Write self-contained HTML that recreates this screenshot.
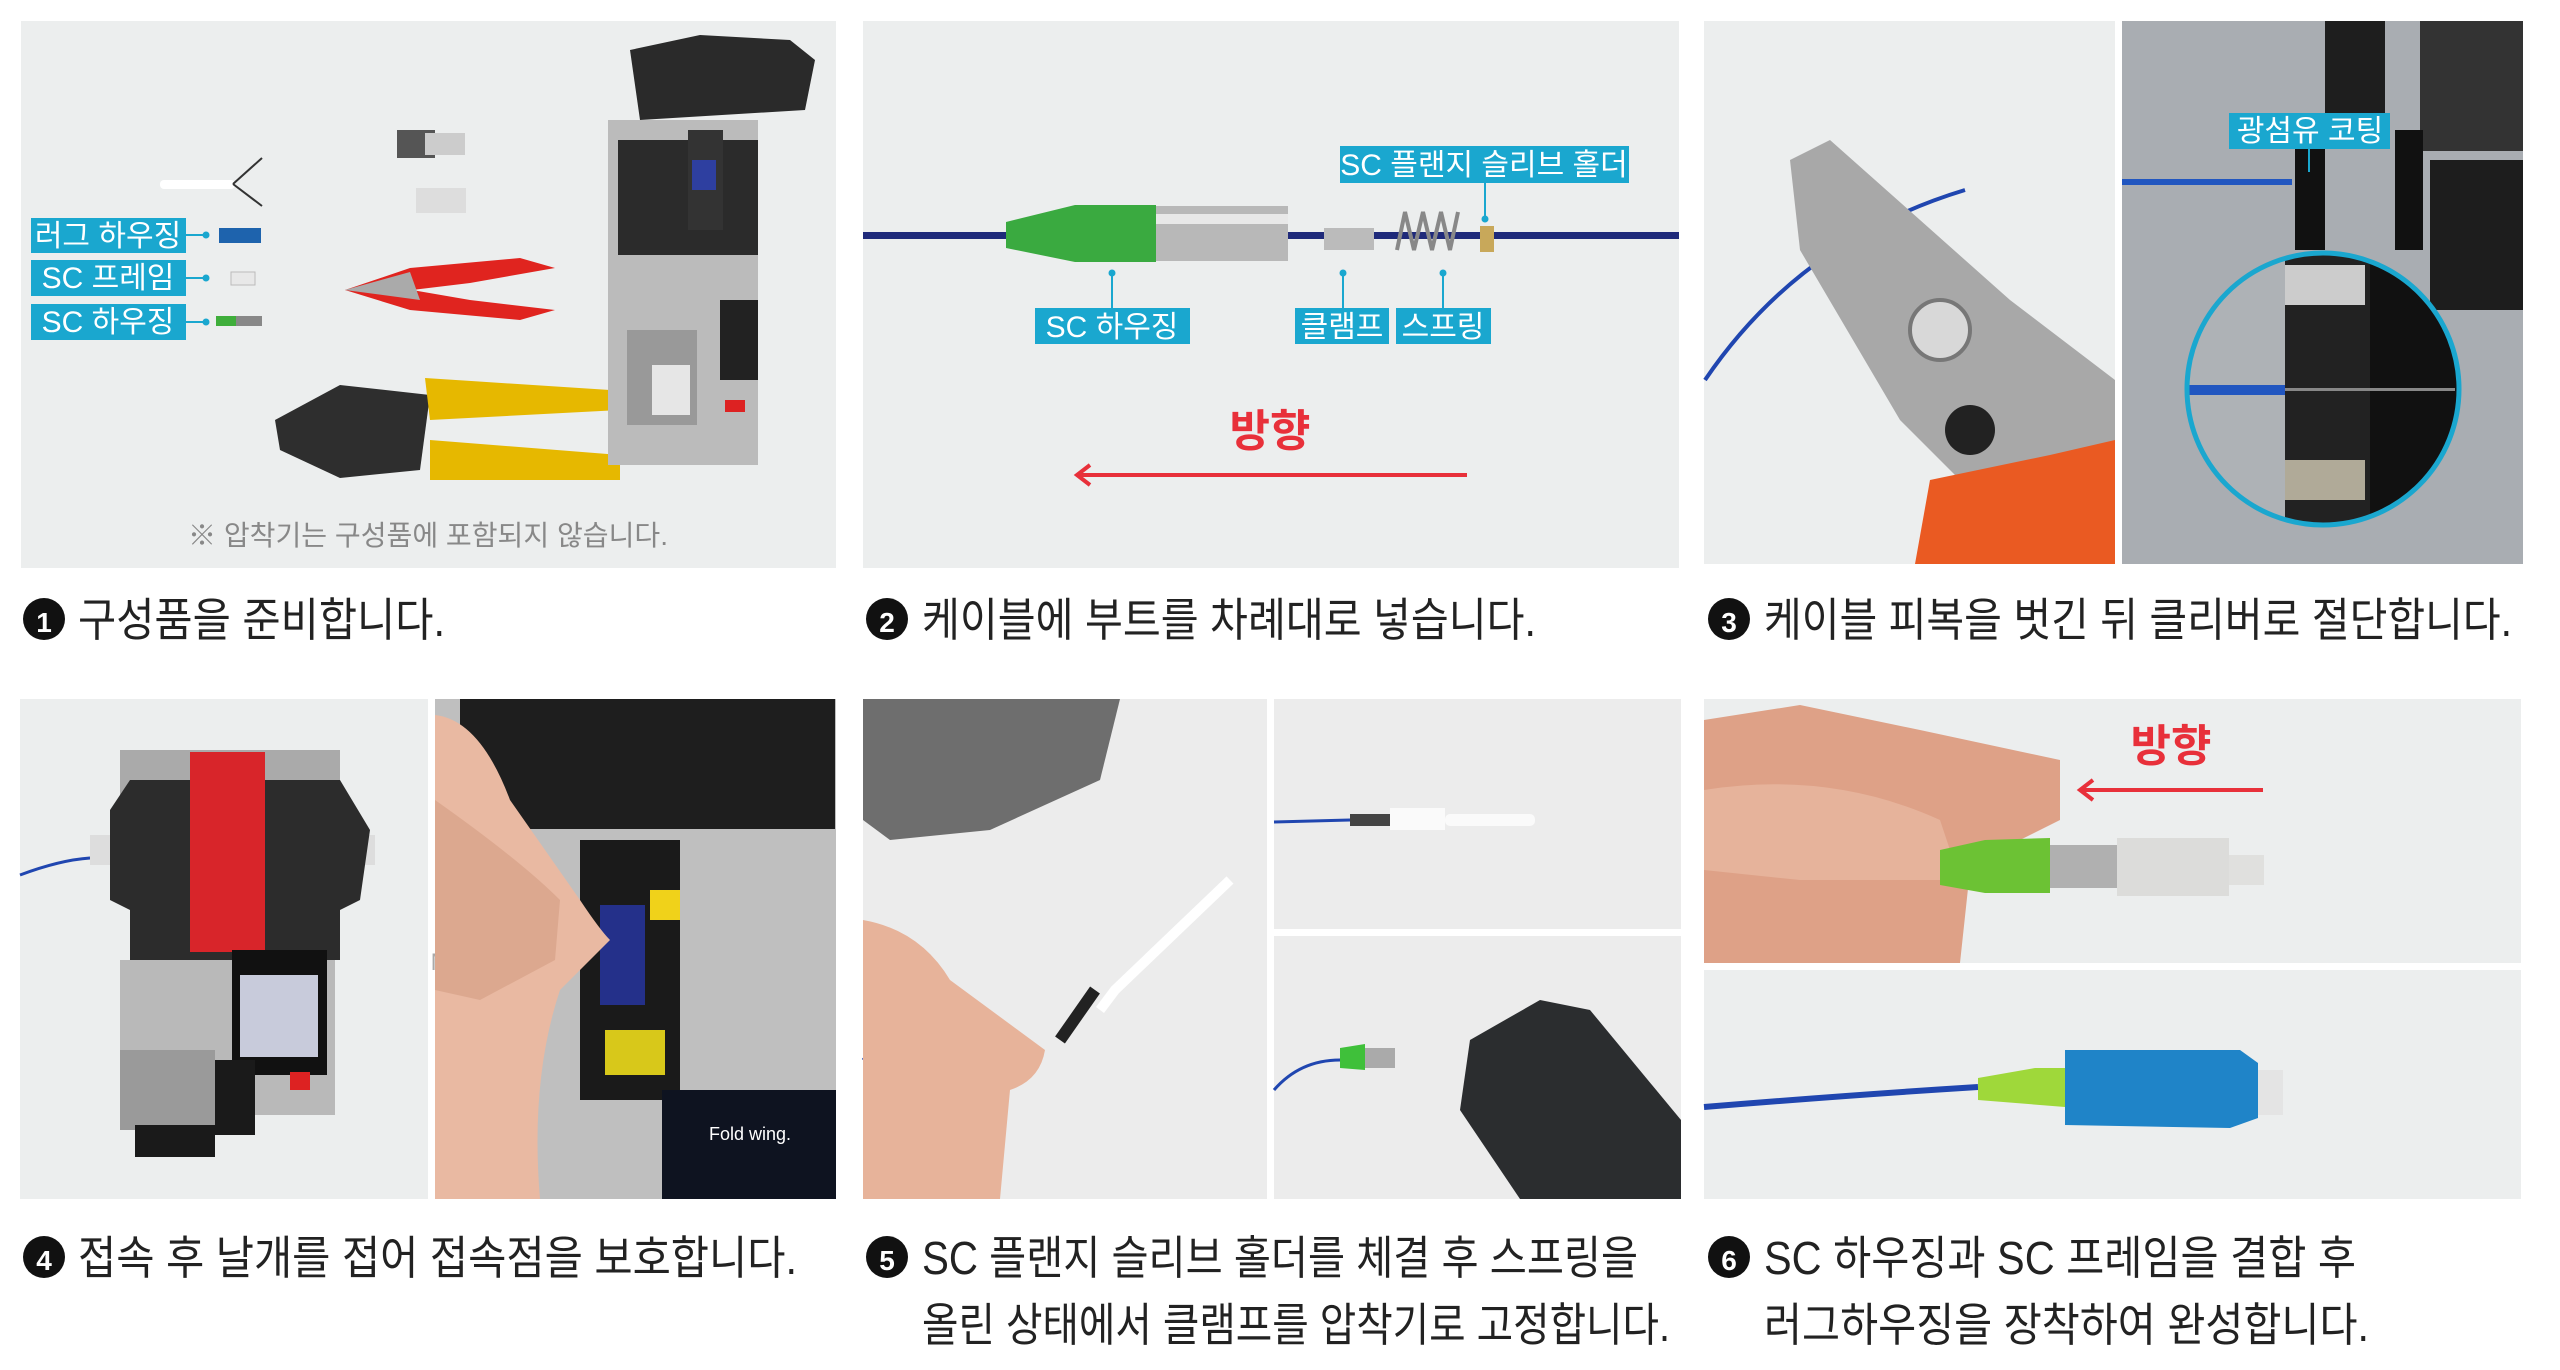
<!DOCTYPE html>
<html><head><meta charset="utf-8"><style>
html,body{margin:0;padding:0;background:#fff;width:2560px;height:1370px;overflow:hidden}
svg{display:block}
text{font-family:"Liberation Sans","Noto Sans CJK KR",sans-serif}
</style></head><body>
<svg width="2560" height="1370" viewBox="0 0 2560 1370" xmlns="http://www.w3.org/2000/svg">
<defs>
<clipPath id="c1"><circle cx="2323" cy="389" r="136"/></clipPath>
</defs>
<!-- ===== Panel 1 ===== -->
<rect x="21" y="21" width="815" height="547" fill="#eceeee"/>
<rect x="160" y="180" width="75" height="9" rx="4" fill="#fff"/>
<path d="M233 184 L262 158 M233 184 L262 206" stroke="#333" stroke-width="2"/>
<rect x="397" y="130" width="38" height="28" fill="#555"/><rect x="425" y="133" width="40" height="22" fill="#ccc"/>
<rect x="416" y="188" width="50" height="25" fill="#ddd"/>
<g font-size="30" fill="#fff">
<rect x="31" y="218" width="155" height="35" fill="#1aa7cf"/><text x="108" y="246" text-anchor="middle">러그 하우징</text>
<rect x="31" y="260" width="155" height="36" fill="#1aa7cf"/><text x="108" y="288" text-anchor="middle">SC 프레임</text>
<rect x="31" y="304" width="155" height="36" fill="#1aa7cf"/><text x="108" y="332" text-anchor="middle">SC 하우징</text>
</g>
<g stroke="#1aa7cf" stroke-width="2"><path d="M186 235 H205 M186 278 H205 M186 322 H205"/></g>
<g fill="#1aa7cf"><circle cx="206" cy="235" r="3.5"/><circle cx="206" cy="278" r="3.5"/><circle cx="206" cy="322" r="3.5"/></g>
<rect x="219" y="228" width="42" height="15" fill="#1e63ad"/>
<rect x="231" y="272" width="24" height="13" fill="#e8e8e8" stroke="#bbb"/>
<rect x="216" y="316" width="20" height="10" fill="#3fae3b"/><rect x="236" y="316" width="26" height="10" fill="#888"/>
<path d="M345 290 L410 268 L520 258 L555 268 L470 283 L412 290 L470 300 L555 310 L520 320 L410 310 Z" fill="#e0241f"/>
<path d="M345 290 L410 272 L420 300 Z" fill="#aaa"/>
<path d="M275 420 L340 385 L430 395 L420 470 L340 478 L280 450 Z" fill="#2e2e2e"/>
<path d="M425 378 L610 390 L620 410 L430 420 Z" fill="#e6b800"/>
<path d="M430 440 L620 455 L620 480 L430 480 Z" fill="#e6b800"/>
<path d="M630 50 L700 35 L790 40 L815 60 L805 110 L640 120 Z" fill="#2a2a2a"/>
<rect x="608" y="120" width="150" height="345" fill="#bbb"/>
<rect x="618" y="140" width="140" height="115" fill="#2b2b2b"/>
<rect x="688" y="130" width="35" height="100" fill="#333"/><rect x="692" y="160" width="24" height="30" fill="#2e3fa0"/>
<rect x="720" y="300" width="38" height="80" fill="#222"/>
<rect x="627" y="330" width="70" height="95" fill="#999"/><rect x="652" y="365" width="38" height="50" fill="#e6e6e6"/>
<rect x="725" y="400" width="20" height="12" fill="#d22"/>
<text x="428" y="545" font-size="28" fill="#888" text-anchor="middle" textLength="480" lengthAdjust="spacingAndGlyphs">※ 압착기는 구성품에 포함되지 않습니다.</text>

<!-- ===== Panel 2 ===== -->
<rect x="863" y="21" width="816" height="547" fill="#eceeee"/>
<rect x="863" y="232" width="816" height="7" fill="#1f2a7a"/>
<path d="M1006 222 L1075 205 L1156 205 L1156 262 L1075 262 L1006 248 Z" fill="#3aaa40"/>
<rect x="1156" y="206" width="132" height="55" fill="#b8b8b8"/>
<rect x="1156" y="214" width="132" height="10" fill="#e8e8e8"/>
<rect x="1324" y="228" width="50" height="22" fill="#bbb"/>
<path d="M1397 250 L1405 212 L1414 250 L1423 212 L1432 250 L1441 212 L1450 250 L1458 212" stroke="#888" stroke-width="4" fill="none"/>
<rect x="1480" y="226" width="14" height="26" fill="#c8a85a"/>
<g font-size="30" fill="#fff">
<rect x="1340" y="146" width="289" height="37" fill="#1aa7cf"/><text x="1484" y="175" text-anchor="middle">SC 플랜지 슬리브 홀더</text>
<rect x="1035" y="308" width="155" height="36" fill="#1aa7cf"/><text x="1112" y="337" text-anchor="middle">SC 하우징</text>
<rect x="1295" y="308" width="94" height="36" fill="#1aa7cf"/><text x="1342" y="337" text-anchor="middle">클램프</text>
<rect x="1396" y="308" width="95" height="36" fill="#1aa7cf"/><text x="1443" y="337" text-anchor="middle">스프링</text>
</g>
<g stroke="#1aa7cf" stroke-width="2"><path d="M1485 183 V218 M1112 274 V308 M1343 274 V308 M1443 274 V308"/></g>
<g fill="#1aa7cf"><circle cx="1485" cy="219" r="3.5"/><circle cx="1112" cy="273" r="3.5"/><circle cx="1343" cy="273" r="3.5"/><circle cx="1443" cy="273" r="3.5"/></g>
<text x="1270" y="446" font-size="44" font-weight="bold" fill="#e8303a" text-anchor="middle">방향</text>
<path d="M1078 475 H1467" stroke="#e8303a" stroke-width="4"/>
<path d="M1090 465 L1077 475 L1090 485" stroke="#e8303a" stroke-width="4" fill="none"/>

<!-- ===== Panel 3 ===== -->
<rect x="1704" y="21" width="411" height="543" fill="#eceeee"/>
<path d="M1705 380 Q1800 240 1965 190" stroke="#2046b0" stroke-width="4" fill="none"/>
<path d="M1790 160 L1830 140 L2010 300 L2115 380 L2115 500 L1960 480 L1900 420 L1800 250 Z" fill="#a8a8a8"/>
<circle cx="1940" cy="330" r="30" fill="#d8d8d8" stroke="#777" stroke-width="4"/>
<circle cx="1970" cy="430" r="25" fill="#222"/>
<path d="M1930 480 L2050 455 L2115 440 L2115 564 L1915 564 Z" fill="#ea5a22"/>
<rect x="2122" y="21" width="401" height="543" fill="#a9adb2"/>
<rect x="2325" y="21" width="60" height="110" fill="#1e1e1e"/>
<rect x="2420" y="21" width="103" height="130" fill="#333"/>
<rect x="2430" y="160" width="93" height="150" fill="#1d1d1d"/>
<rect x="2295" y="130" width="30" height="120" fill="#111"/>
<rect x="2395" y="130" width="28" height="120" fill="#111"/>
<rect x="2122" y="179" width="170" height="6" fill="#2156c0"/>
<g clip-path="url(#c1)">
<rect x="2180" y="250" width="290" height="280" fill="#aeb2b6"/>
<rect x="2285" y="250" width="85" height="280" fill="#222"/>
<rect x="2370" y="250" width="100" height="280" fill="#111"/>
<rect x="2285" y="265" width="80" height="40" fill="#ccc"/>
<rect x="2285" y="460" width="80" height="40" fill="#b0aa98"/>
<rect x="2180" y="385" width="105" height="10" fill="#2156c0"/>
<rect x="2285" y="388" width="170" height="3" fill="#888"/>
</g>
<circle cx="2323" cy="389" r="136" fill="none" stroke="#1aa7cf" stroke-width="5"/>
<rect x="2229" y="113" width="161" height="36" fill="#1aa7cf"/>
<text x="2310" y="141" font-size="30" fill="#fff" text-anchor="middle">광섬유 코팅</text>
<path d="M2309 149 V172" stroke="#1aa7cf" stroke-width="2"/>

<!-- captions row 1 -->
<g font-size="46" fill="#222">
<circle cx="44" cy="619" r="21" fill="#111"/><text x="44" y="632" font-size="28" font-weight="bold" fill="#fff" text-anchor="middle">1</text>
<text x="78" y="636" textLength="367" lengthAdjust="spacingAndGlyphs">구성품을 준비합니다.</text>
<circle cx="887" cy="619" r="21" fill="#111"/><text x="887" y="632" font-size="28" font-weight="bold" fill="#fff" text-anchor="middle">2</text>
<text x="922" y="636" textLength="614" lengthAdjust="spacingAndGlyphs">케이블에 부트를 차례대로 넣습니다.</text>
<circle cx="1729" cy="619" r="21" fill="#111"/><text x="1729" y="632" font-size="28" font-weight="bold" fill="#fff" text-anchor="middle">3</text>
<text x="1764" y="636" textLength="748" lengthAdjust="spacingAndGlyphs">케이블 피복을 벗긴 뒤 클리버로 절단합니다.</text>
</g>

<!-- ===== Panel 4 ===== -->
<rect x="20" y="699" width="408" height="500" fill="#eceeee"/>
<path d="M20 875 Q60 860 90 858" stroke="#2046b0" stroke-width="3" fill="none"/>
<rect x="90" y="835" width="285" height="30" fill="#ddd"/>
<rect x="120" y="750" width="220" height="60" fill="#aaa"/>
<path d="M110 810 L130 780 L340 780 L370 830 L360 900 L340 910 L340 960 L130 960 L130 910 L110 900 Z" fill="#2c2c2c"/>
<rect x="190" y="752" width="75" height="200" fill="#d8252a"/>
<rect x="120" y="960" width="215" height="155" fill="#b9b9b9"/>
<rect x="232" y="950" width="95" height="125" fill="#111"/><rect x="240" y="975" width="78" height="82" fill="#c8cbdb"/>
<rect x="120" y="1050" width="95" height="80" fill="#9a9a9a"/>
<rect x="215" y="1060" width="40" height="75" fill="#1a1a1a"/>
<rect x="290" y="1072" width="20" height="18" fill="#d22"/>
<rect x="135" y="1125" width="80" height="32" fill="#1a1a1a"/>
<rect x="435" y="699" width="401" height="500" fill="#bfbfbf"/>
<rect x="460" y="699" width="375" height="130" fill="#1e1e1e"/>
<rect x="580" y="840" width="100" height="260" fill="#1a1a1a"/>
<rect x="600" y="905" width="45" height="100" fill="#24308a"/>
<rect x="650" y="890" width="30" height="30" fill="#f0d21a"/>
<rect x="435" y="900" width="70" height="110" fill="#2a2a2a"/>
<text x="470" y="945" font-size="24" fill="#aaa" text-anchor="middle">3mm</text>
<text x="470" y="970" font-size="24" fill="#aaa" text-anchor="middle">Meister</text>
<rect x="605" y="1030" width="60" height="45" fill="#d8c81a"/>
<rect x="662" y="1090" width="174" height="109" fill="#0e1320"/>
<text x="750" y="1140" font-size="18" fill="#fff" text-anchor="middle">Fold wing.</text>
<path d="M435 715 Q480 720 510 800 L580 900 Q600 930 610 940 L560 990 Q530 1080 540 1199 L435 1199 Z" fill="#e9b9a2"/>
<path d="M435 800 Q520 860 560 900 L555 960 L480 1000 L435 990 Z" fill="#dca88f"/>
<!-- ===== Panel 5 ===== -->
<rect x="863" y="699" width="404" height="500" fill="#ececec"/>
<path d="M863 699 L1120 699 L1100 780 L990 830 L890 840 L863 820 Z" fill="#6e6e6e"/>
<path d="M1230 880 L1115 990 L1100 1010" stroke="#fff" stroke-width="10"/>
<path d="M1095 990 L1060 1040" stroke="#222" stroke-width="12"/>
<path d="M863 1060 L880 1040" stroke="#2046b0" stroke-width="3"/>
<path d="M863 920 Q920 930 950 980 L1045 1050 Q1040 1080 1010 1090 L1000 1199 L863 1199 Z" fill="#e7b39a"/>
<rect x="1274" y="699" width="407" height="230" fill="#ececec"/>
<path d="M1274 822 L1350 820" stroke="#2046b0" stroke-width="3"/>
<rect x="1350" y="814" width="40" height="12" fill="#444"/>
<rect x="1390" y="808" width="55" height="22" fill="#fafafa"/>
<rect x="1445" y="814" width="90" height="12" rx="5" fill="#fafafa"/>
<rect x="1274" y="936" width="407" height="263" fill="#ececec"/>
<path d="M1274 1090 Q1300 1060 1340 1060" stroke="#2046b0" stroke-width="3" fill="none"/>
<path d="M1340 1048 L1365 1044 L1365 1070 L1340 1068 Z" fill="#3fc03a"/>
<rect x="1365" y="1048" width="30" height="20" fill="#aaa"/>
<path d="M1470 1040 L1540 1000 L1590 1010 L1681 1120 L1681 1199 L1520 1199 L1460 1110 Z" fill="#2b2d2f"/>

<!-- ===== Panel 6 ===== -->
<rect x="1704" y="699" width="817" height="264" fill="#eceeee"/>
<path d="M1704 720 L1800 705 L1920 730 L2060 760 L2060 820 L2000 850 L1970 870 L1960 963 L1704 963 Z" fill="#dea187"/>
<path d="M1704 790 Q1830 770 1940 820 L1960 880 L1800 880 L1704 870 Z" fill="#e6b39b"/>
<path d="M1940 850 L1985 840 L2050 838 L2050 893 L1985 893 L1940 885 Z" fill="#6cc234"/>
<rect x="2050" y="845" width="67" height="43" fill="#b0b0b0"/>
<rect x="2117" y="838" width="112" height="58" fill="#dcdcda"/>
<rect x="2229" y="855" width="35" height="30" fill="#e0e0de"/>
<text x="2171" y="761" font-size="44" font-weight="bold" fill="#e8303a" text-anchor="middle">방향</text>
<path d="M2081 790 H2263" stroke="#e8303a" stroke-width="4"/>
<path d="M2093 780 L2080 790 L2093 800" stroke="#e8303a" stroke-width="4" fill="none"/>
<rect x="1704" y="970" width="817" height="229" fill="#eceeee"/>
<path d="M1704 1107 Q1850 1095 1978 1087" stroke="#2046b0" stroke-width="6" fill="none"/>
<path d="M1978 1078 L2035 1068 L2065 1068 L2065 1107 L1978 1100 Z" fill="#9fd83a"/>
<path d="M2065 1050 L2240 1050 L2258 1063 L2258 1118 L2230 1128 L2065 1125 Z" fill="#1f84c8"/>
<rect x="2258" y="1070" width="25" height="45" fill="#e4e4e4"/>

<!-- captions row 2 -->
<g font-size="46" fill="#222">
<circle cx="44" cy="1257" r="21" fill="#111"/><text x="44" y="1270" font-size="28" font-weight="bold" fill="#fff" text-anchor="middle">4</text>
<text x="78" y="1274" textLength="719" lengthAdjust="spacingAndGlyphs">접속 후 날개를 접어 접속점을 보호합니다.</text>
<circle cx="887" cy="1257" r="21" fill="#111"/><text x="887" y="1270" font-size="28" font-weight="bold" fill="#fff" text-anchor="middle">5</text>
<text x="922" y="1274" textLength="716" lengthAdjust="spacingAndGlyphs">SC 플랜지 슬리브 홀더를 체결 후 스프링을</text>
<text x="922" y="1341" textLength="748" lengthAdjust="spacingAndGlyphs">올린 상태에서 클램프를 압착기로 고정합니다.</text>
<circle cx="1729" cy="1257" r="21" fill="#111"/><text x="1729" y="1270" font-size="28" font-weight="bold" fill="#fff" text-anchor="middle">6</text>
<text x="1764" y="1274" textLength="592" lengthAdjust="spacingAndGlyphs">SC 하우징과 SC 프레임을 결합 후</text>
<text x="1764" y="1341" textLength="605" lengthAdjust="spacingAndGlyphs">러그하우징을 장착하여 완성합니다.</text>
</g>
</svg>
</body></html>
